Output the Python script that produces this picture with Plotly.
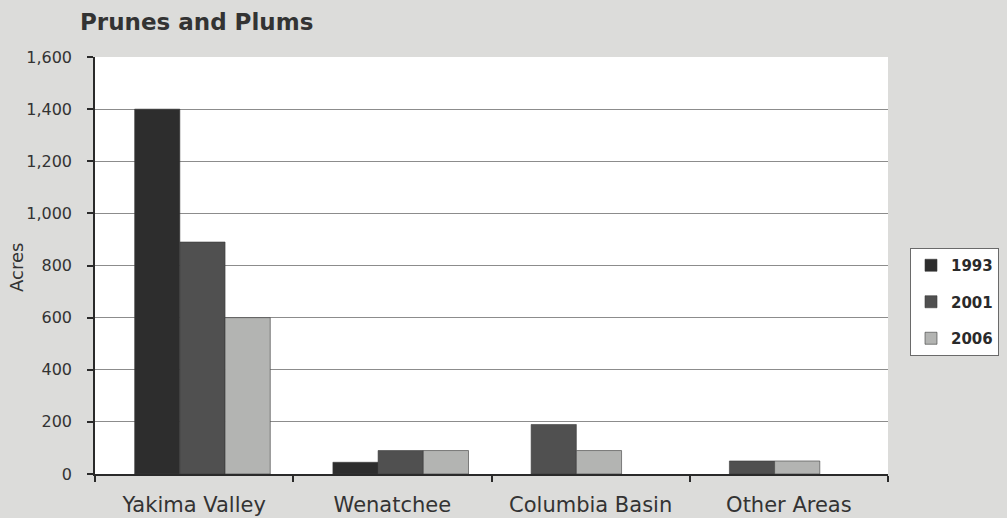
import plotly.graph_objects as go

# Acreage by growing area
categories = ["Yakima Valley", "Wenatchee", "Columbia Basin", "Other Areas"]
years = ["1993", "2001", "2006"]
acres_1993 = [1400, 45, None, None]
acres_2001 = [890, 90, 190, 50]
acres_2006 = [600, 90, 90, 50]
y_ticks = [0, 200, 400, 600, 800, 1000, 1200, 1400, 1600]

series = [acres_1993, acres_2001, acres_2006]
colors = ["#2d2d2d", "#505050", "#b3b4b2"]

# Bars are packed from the left of each group, skipping years with no data
SLOT_W = 0.228
GROUP_START = -0.30

slot_index = []
for s in series:
    slot_index.append([None] * len(categories))
for i in range(len(categories)):
    k = 0
    for j, s in enumerate(series):
        if s[i] is not None:
            slot_index[j][i] = k
            k += 1

fig = go.Figure()
for j, (yr, vals, col) in enumerate(zip(years, series, colors)):
    offsets = [GROUP_START + (k if k is not None else 0) * SLOT_W for k in slot_index[j]]
    fig.add_trace(go.Bar(
        x=categories,
        y=vals,
        name=yr,
        legendgroup=yr,
        offset=offsets,
        width=SLOT_W,
        marker=dict(color=col, line=dict(width=0.6, color="#3a3a3a")),
    ))

font_family = "DejaVu Sans"

fig.update_layout(
    width=1007,
    height=518,
    barmode="overlay",
    paper_bgcolor="#dcdcda",
    plot_bgcolor="#ffffff",
    margin=dict(l=95, r=119, t=57, b=44, autoexpand=False),
    showlegend=True,
    legend=dict(
        xref="container", yref="container",
        x=910 / 1007, xanchor="left",
        y=1 - 302 / 518, yanchor="middle",
        bgcolor="#ffffff",
        bordercolor="#6a6a6a",
        borderwidth=1,
        traceorder="grouped",
        tracegroupgap=14,
        font=dict(family=font_family, size=15, color="#2a2a2a", weight="bold"),
        itemwidth=30,
    ),
    font=dict(family=font_family, color="#333333"),
)

fig.update_xaxes(
    type="category",
    range=[-0.5, 3.5],
    automargin=False,
    showline=True, linecolor="#2a2a2a", linewidth=1.5,
    ticks="outside", ticklen=6, tickcolor="#2a2a2a", tickwidth=1.5,
    tickson="boundaries",
    showgrid=False,
    tickfont=dict(family=font_family, size=21, color="#333333"),
    ticklabelstandoff=11,
)

fig.update_yaxes(
    range=[0, 1600],
    tickvals=y_ticks,
    tickformat=",d",
    automargin=False,
    showline=True, linecolor="#2a2a2a", linewidth=1.5,
    ticks="outside", ticklen=6, tickcolor="#2a2a2a", tickwidth=1.5,
    showgrid=True, gridcolor="#8c8c8c", gridwidth=1,
    zeroline=False,
    tickfont=dict(family=font_family, size=16, color="#333333"),
    ticklabelstandoff=12,
)

fig.add_annotation(
    text="<b>Prunes and Plums</b>",
    xref="paper", yref="paper",
    x=(78 - 95) / 793, y=(474 - 22) / 417,
    xanchor="left", yanchor="middle",
    showarrow=False,
    font=dict(family=font_family, size=23, color="#333333"),
)

fig.add_annotation(
    text="Acres",
    xref="paper", yref="paper",
    x=(16 - 95) / 793, y=(474 - 268) / 417,
    xanchor="center", yanchor="middle",
    textangle=-90,
    showarrow=False,
    font=dict(family=font_family, size=18, color="#333333"),
)

fig.write_html("out.html")
